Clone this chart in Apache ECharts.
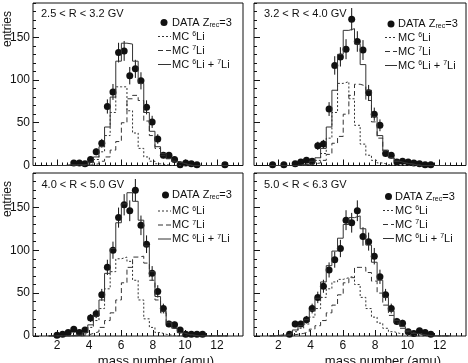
<!DOCTYPE html>
<html>
<head>
<meta charset="utf-8">
<script src="https://cdn.jsdelivr.net/npm/echarts@6/dist/echarts.min.js"></script>
<style>
  html, body { margin: 0; padding: 0; background: #fff; }
  #chart { width: 468px; height: 363px; }
</style>
</head>
<body>
<div id="chart"></div>
<script>
// bin centres (amu), bin width 0.35
const binCenters = [1.65, 2.0, 2.35, 2.7, 3.05, 3.4, 3.75, 4.1, 4.45, 4.8, 5.15, 5.5, 5.85, 6.2, 6.55, 6.9,
  7.25, 7.6, 7.95, 8.3, 8.65, 9.0, 9.35, 9.7, 10.05, 10.4, 10.75, 11.1, 11.45, 11.8, 12.15, 12.5];
const binWidth = 0.35;
const xTickLabels = [2, 4, 6, 8, 10, 12];
const yTickLabels = [0, 50, 100, 150];
const panelTitles = ['2.5 < R < 3.2 GV', '3.2 < R < 4.0 GV', '4.0 < R < 5.0 GV', '5.0 < R < 6.3 GV'];
const n = null;

// 2.5 < R < 3.2 GV
const dataTL = [n,n,n,n,3,3,2,7,16,26,69,86,132,134,105,113,99,68,51,31,12,12,7,1,3,2,1,n,n,n,n,1];
const errTL  = [n,n,n,n,1.7,1.7,1.4,2.6,4,5.1,8.3,9.3,11.5,11.6,10.2,10.6,10,8.2,7.1,5.6,3.5,3.5,2.6,1,1.7,1.4,1,n,n,n,n,1];
const li6TL  = [0,0,0,0,0,1,1,3,7,16,35,62,92,92,64,38,20,10,5,2,1,0,0,0,0,0,0,0,0,0,0,0];
const li7TL  = [0,0,0,0,0,0,0,1,2,5,10,18,28,50,78,82,76,52,35,20,12,8,5,3,1,0,0,0,0,0,0,0];
const sumTL  = [0,0,0,1,1,1,1,4,10,22,45,80,122,143,142,122,96,62,40,22,14,8,5,3,1,0,0,0,0,0,0,0];

// 3.2 < R < 4.0 GV
const dataTR = [1,n,1,n,2,4,6,5,23,25,66,117,127,136,171,145,135,85,60,47,14,12,4,5,4,3,2,1,1,n,n,n];
const errTR  = [1,n,1,n,1.4,2,2.4,2.2,4.8,5,8.1,10.8,11.3,11.7,13.1,12,11.6,9.2,7.7,6.9,3.7,3.5,2,2.2,2,1.7,1.4,1,1,n,n,n];
const li6TR  = [0,0,0,0,0,1,1,3,6,14,32,62,96,98,78,47,25,12,6,3,1,0,0,0,0,0,0,0,0,0,0,0];
const li7TR  = [0,0,0,0,0,0,0,2,3,6,13,26,34,60,82,95,93,76,51,32,17,9,5,3,2,1,0,0,0,0,0,0];
const sumTR  = [0,0,0,0,0,1,1,5,9,20,45,88,130,158,160,142,118,88,57,35,18,9,5,3,2,1,0,0,0,0,0,0];

// 4.0 < R < 5.0 GV
const dataBL = [n,1,2,4,8,4,7,21,26,48,80,100,138,153,146,170,129,107,73,52,32,14,13,7,2,2,2,2,n,n,n,n];
const errBL  = [n,1,1.4,2,2.8,2,2.6,4.6,5.1,6.9,8.9,10,11.7,12.4,12.1,13,11.4,10.3,8.5,7.2,5.7,3.7,3.6,2.6,1.4,1.4,1.4,1.4,n,n,n,n];
const li6BL  = [0,0,0,0,1,1,3,10,18,32,55,75,90,92,87,65,42,20,10,4,2,1,0,0,0,0,0,0,0,0,0,0];
const li7BL  = [0,0,0,0,0,0,1,3,5,10,18,27,42,62,80,92,93,85,65,42,27,15,9,4,2,1,0,0,0,0,0,0];
const sumBL  = [0,0,0,0,1,1,4,13,23,42,73,102,132,154,167,157,135,105,75,46,29,16,9,4,2,1,0,0,0,0,0,0];

// 5.0 < R < 6.3 GV
const dataBR = [n,n,n,2,14,14,19,32,45,58,77,89,102,135,132,146,116,110,93,69,48,32,17,15,5,3,6,4,2,n,n,n];
const errBR  = [n,n,n,1.4,3.7,3.7,4.4,5.7,6.7,7.6,8.8,9.4,10.1,11.6,11.5,12.1,10.8,10.5,9.6,8.3,6.9,5.7,4.1,3.9,2.2,1.7,2.4,2,1.4,n,n,n];
const li6BR  = [0,1,1,2,5,9,14,22,32,45,55,63,66,68,70,60,45,32,22,15,9,5,3,2,1,0,0,0,0,0,0,0];
const li7BR  = [0,0,0,1,2,3,5,8,12,18,27,36,48,62,68,80,80,74,64,50,36,24,15,9,5,3,2,1,0,0,0,0];
const sumBR  = [0,1,1,3,7,12,19,30,44,63,82,99,114,130,138,140,125,106,86,65,45,29,18,11,6,3,2,1,0,0,0,0];

const FONT = '"Liberation Sans", Arial, Helvetica, sans-serif';
const INK = '#111';
const LINE = '#333';

const panels = [
  { data: dataTL, err: errTL, li6: li6TL, li7: li7TL, sum: sumTL },
  { data: dataTR, err: errTR, li6: li6TR, li7: li7TR, sum: sumTR },
  { data: dataBL, err: errBL, li6: li6BL, li7: li7BL, sum: sumBL },
  { data: dataBR, err: errBR, li6: li6BR, li7: li7BR, sum: sumBR }
];

// layout
const grids = [
  { left: 33, top: 3, width: 210, height: 162.5 },
  { left: 254, top: 3, width: 212, height: 162.5 },
  { left: 33, top: 173, width: 210, height: 163 },
  { left: 254, top: 173, width: 212, height: 163 }
];
const titlePos = [[41, 14], [264, 14], [41.5, 185], [264, 185]];
const legendPos = [
  { dot: [164, 22.5], tx: 172, lx: 158, rows: [36.5, 50.5, 64.5] },
  { dot: [391, 24], tx: 398, lx: 385, rows: [37.5, 51.5, 65.5] },
  { dot: [165.5, 195], tx: 172, lx: 158, rows: [211, 225, 239] },
  { dot: [388.5, 196.5], tx: 395, lx: 383, rows: [210.5, 224.5, 238.5] }
];

const minorX = [];
for (let k = -4; k <= 34; k++) minorX.push(2 + k / 3);
const minorY = [];
for (let v = 0; v <= 190; v += 10) minorY.push(v);

function histPoints(vals) {
  const pts = vals.map((v, k) => [binCenters[k] - binWidth / 2, v]);
  const last = vals.length - 1;
  pts.push([binCenters[last] + binWidth / 2, vals[last]]);
  return pts;
}

function pointData(vals, errs) {
  const out = [];
  vals.forEach((v, k) => { if (v != null) out.push([binCenters[k], v, errs[k]]); });
  return out;
}

const xAxis = [], yAxis = [], series = [], graphic = [];

grids.forEach((g, i) => {
  const bottom = i >= 2, left = i % 2 === 0;
  xAxis.push({
    gridIndex: i, type: 'value', min: 0.5, max: 13.63,
    axisLine: { show: false }, splitLine: { show: false },
    axisTick: { show: true, inside: true, length: 6, customValues: xTickLabels, lineStyle: { color: INK } },
    axisLabel: { show: bottom, customValues: xTickLabels, color: INK, fontSize: 12, fontFamily: FONT, margin: 4 }
  });
  xAxis.push({
    gridIndex: i, type: 'value', min: 0.5, max: 13.63, position: 'bottom',
    axisLine: { show: false }, splitLine: { show: false }, axisLabel: { show: false },
    axisTick: { show: true, inside: true, length: 3, customValues: minorX, lineStyle: { color: INK } }
  });
  yAxis.push({
    gridIndex: i, type: 'value', min: 0, max: 190,
    axisLine: { show: false }, splitLine: { show: false },
    axisTick: { show: true, inside: true, length: 6, customValues: yTickLabels, lineStyle: { color: INK } },
    axisLabel: { show: left, customValues: yTickLabels, color: INK, fontSize: 12, fontFamily: FONT, margin: 3 }
  });
  yAxis.push({
    gridIndex: i, type: 'value', min: 0, max: 190, position: 'left',
    axisLine: { show: false }, splitLine: { show: false }, axisLabel: { show: false },
    axisTick: { show: true, inside: true, length: 3, customValues: minorY, lineStyle: { color: INK } }
  });

  const p = panels[i];
  const ax = { xAxisIndex: 2 * i, yAxisIndex: 2 * i };
  series.push(Object.assign({
    type: 'line', step: 'end', symbol: 'none', data: histPoints(p.li6),
    lineStyle: { color: LINE, width: 1, type: [2, 2] }, silent: true
  }, ax));
  series.push(Object.assign({
    type: 'line', step: 'end', symbol: 'none', data: histPoints(p.li7),
    lineStyle: { color: LINE, width: 1, type: [5, 3] }, silent: true
  }, ax));
  series.push(Object.assign({
    type: 'line', step: 'end', symbol: 'none', data: histPoints(p.sum),
    lineStyle: { color: LINE, width: 1 }, silent: true
  }, ax));
  series.push(Object.assign({
    type: 'custom', data: pointData(p.data, p.err),
    encode: { x: 0, y: 1 },
    renderItem: function (params, api) {
      const x = api.value(0), y = api.value(1), e = api.value(2);
      const a = api.coord([x, y + e]), b = api.coord([x, y - e]);
      return { type: 'line', shape: { x1: a[0], y1: a[1], x2: b[0], y2: b[1] }, style: { stroke: INK, lineWidth: 1 } };
    }
  }, ax));
  series.push(Object.assign({
    type: 'scatter', data: pointData(p.data, p.err), symbol: 'circle', symbolSize: 7,
    itemStyle: { color: INK, opacity: 1 }
  }, ax));

  // panel title
  graphic.push({
    type: 'text', x: titlePos[i][0], y: titlePos[i][1],
    style: { text: panelTitles[i], fill: INK, fontSize: 11, fontFamily: FONT, verticalAlign: 'middle' }
  });

  // legend
  const L = legendPos[i];
  graphic.push({ type: 'circle', shape: { cx: L.dot[0], cy: L.dot[1], r: 3.5 }, style: { fill: INK } });
  const rich = {
    a: { fontSize: 11, fontFamily: FONT, fill: INK },
    s: { fontSize: 7, fontFamily: FONT, fill: INK, verticalAlign: 'bottom', padding: [5, 0, 0, 0] },
    p: { fontSize: 7, fontFamily: FONT, fill: INK, verticalAlign: 'top', padding: [0, 0, 3, 0] }
  };
  graphic.push({
    type: 'text', x: L.tx, y: L.dot[1],
    style: { text: '{a|DATA Z}{s|rec}{a|=3}', rich: rich, verticalAlign: 'middle' }
  });
  const labels = ['{a|MC }{p|6}{a|Li}', '{a|MC }{p|7}{a|Li}', '{a|MC }{p|6}{a|Li + }{p|7}{a|Li}'];
  const dashes = [[2, 2], [5, 3], null];
  labels.forEach((t, r) => {
    graphic.push({
      type: 'line', shape: { x1: L.lx, y1: L.rows[r], x2: L.tx - 1, y2: L.rows[r] },
      style: { stroke: LINE, lineWidth: 1, lineDash: dashes[r] }
    });
    graphic.push({
      type: 'text', x: L.tx, y: L.rows[r],
      style: { text: t, rich: rich, verticalAlign: 'middle' }
    });
  });
});

// axis titles
[[7.5, 29], [7.5, 199]].forEach(pos => {
  graphic.push({
    type: 'text', x: pos[0], y: pos[1], rotation: Math.PI / 2,
    style: { text: 'entries', fill: INK, fontSize: 12, fontFamily: FONT, align: 'center', verticalAlign: 'middle' }
  });
});
[[156, 361], [383, 361]].forEach(pos => {
  graphic.push({
    type: 'text', x: pos[0], y: pos[1],
    style: { text: 'mass number (amu)', fill: INK, fontSize: 13, fontFamily: FONT, align: 'center', verticalAlign: 'middle' }
  });
});

const chart = echarts.init(document.getElementById('chart'), null, { renderer: 'canvas' });
chart.setOption({
  backgroundColor: '#fff',
  animation: false,
  grid: grids.map(g => Object.assign({
    show: true, borderColor: INK, borderWidth: 1, backgroundColor: 'transparent',
    containLabel: false, outerBoundsMode: 'none'
  }, g)),
  xAxis: xAxis,
  yAxis: yAxis,
  series: series,
  graphic: graphic
});
</script>
</body>
</html>
